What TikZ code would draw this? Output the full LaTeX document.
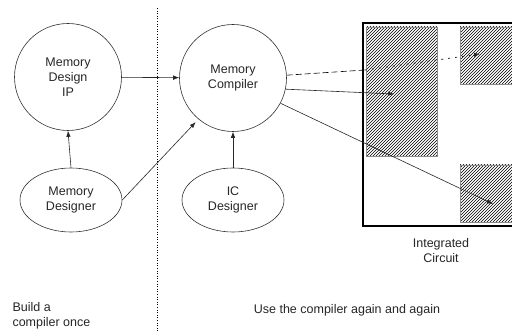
\documentclass[tikz,border=0pt]{standalone}
\usepackage{fontspec}
\setmainfont{Liberation Sans}
\usetikzlibrary{arrows.meta,shapes.geometric,patterns}

\begin{document}
\begin{tikzpicture}[x=1pt, y=-1pt,
      lbl/.style={font=\fontsize{12.5}{15}\selectfont, align=center, text=black!85},
      bubble/.style={lbl, circle, draw=black!80, line width=0.6pt,
        minimum size=107pt, inner sep=0pt},
      who/.style={lbl, ellipse, draw=black!80, line width=0.6pt,
        minimum width=102pt, minimum height=64pt, inner sep=0pt},
      flow/.style={-{Latex[length=6pt,width=4.5pt]}, line width=0.6pt, draw=black!85},
      block/.style={pattern=north east lines, pattern color=black, draw=black!45, line width=0.5pt},
      chip/.style={draw=black, line width=2.6pt}
    ]
    \useasboundingbox (0,0) rectangle (512,331);
    \clip (0,0) rectangle (512,331);
    % split between the two phases
    \draw[dotted, line width=0.6pt] (157,8) -- (157,331);
    % integrated circuit
    \draw[block] (366,27) rectangle (437,156);
    \draw[block] (460,27) rectangle (530,84);
    \draw[block] (460,165) rectangle (530,222);
    \draw[chip] (363,23) rectangle (540,226);
    \node[lbl] (ic) at (441,251) {Integrated\\Circuit};
    % actors
    \node[bubble] (ip)  at (68,77)   {Memory\\Design\\IP};
    \node[bubble] (mc)  at (233,78)  {Memory\\Compiler};
    \node[who]    (md)  at (71,200)  {Memory\\Designer};
    \node[who]    (icd) at (233,200) {IC\\Designer};
    \coordinate (t1) at (480,54);
    \coordinate (e1) at (365,70);
    \coordinate (t2) at (394,94);
    \coordinate (t3) at (493,204);
    \draw[flow] (ip) -- (mc);
    \draw[flow] (md.north) -- (ip.south);
    \draw[flow] (icd.north) -- (mc.south);
    \draw[flow, shorten >=4pt] (md.east) -- (mc.230);
    \draw[line width=0.6pt, dash pattern=on 6pt off 3pt] (mc.3) -- (e1);
    \draw[flow, line width=0.8pt, dash pattern=on 2pt off 5pt] (e1) -- (t1);
    \draw[flow] (mc.-12) -- (t2);
    \draw[flow] (mc.-28) -- (t3);
    % phase captions
    \node[lbl, align=left, anchor=north west] (once) at (9,299) {Build a\\compiler once};
    \node[lbl] (again) at (347,310) {Use the compiler again and again};
\end{tikzpicture}
\end{document}
